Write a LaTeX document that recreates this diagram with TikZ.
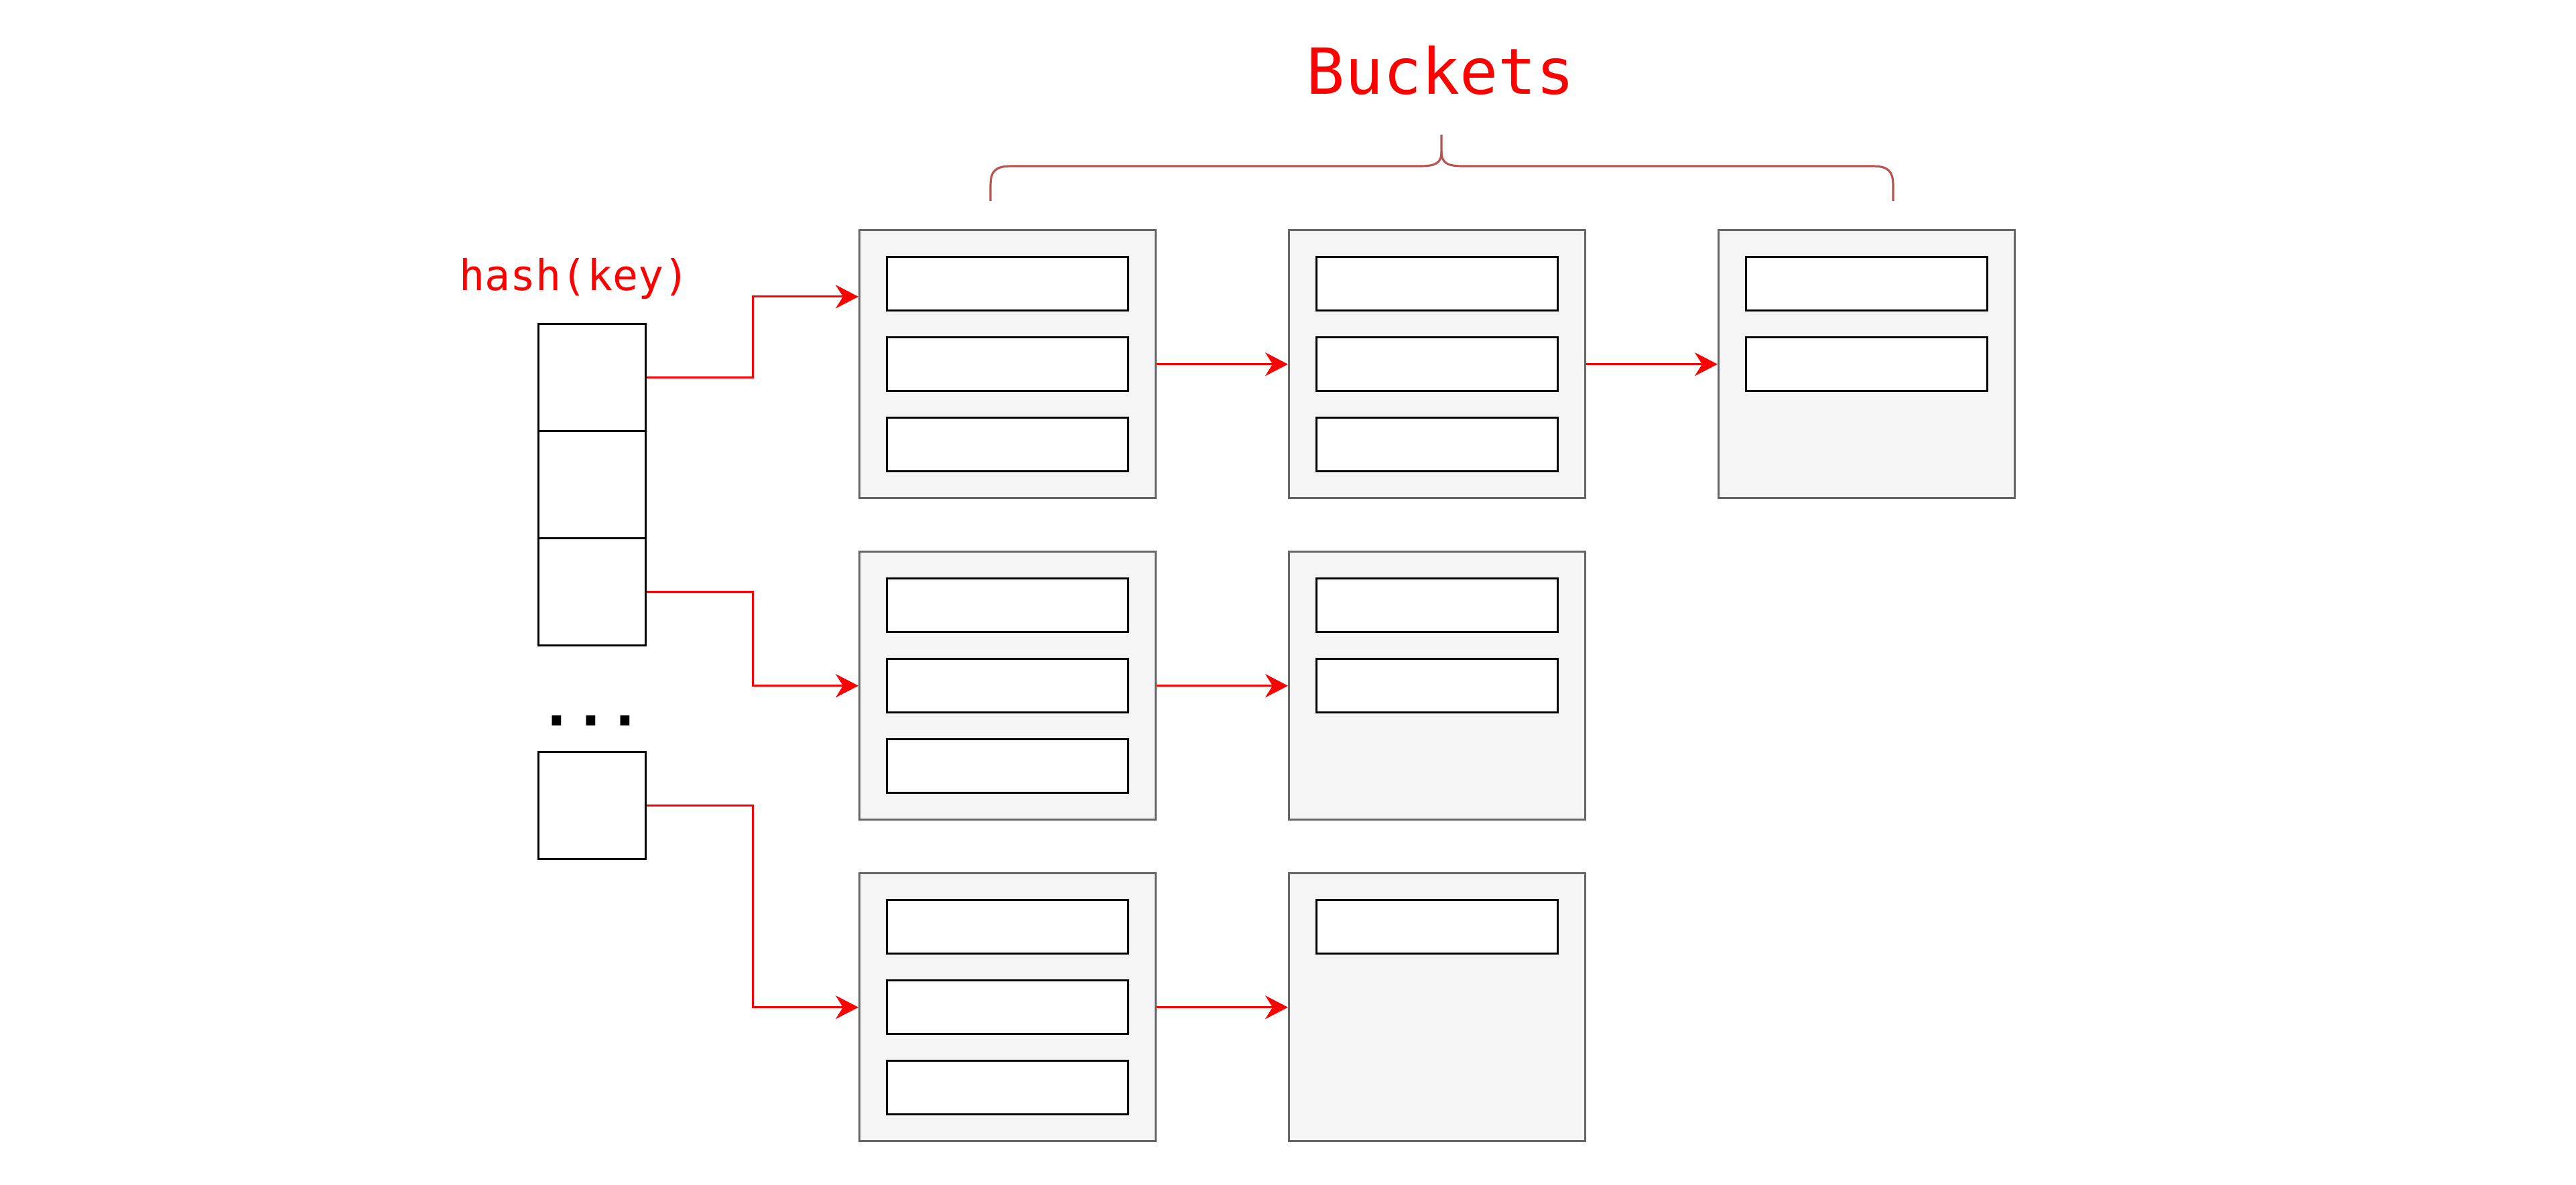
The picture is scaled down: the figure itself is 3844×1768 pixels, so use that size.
\documentclass[tikz,border=0pt]{standalone}
\usepackage{fontspec}
\newfontfamily\monofont{DejaVu Sans Mono}
\usetikzlibrary{arrows.meta,calc}
\definecolor{bucketfill}{HTML}{F5F5F5}
\definecolor{bucketline}{HTML}{666666}
\definecolor{bracecol}{HTML}{B85450}
\definecolor{arrred}{HTML}{FF0000}
\begin{document}
\begin{tikzpicture}[x=0.01cm,y=-0.01cm,
  bucket/.style={draw=bucketline, fill=bucketfill, line width=0.9pt, minimum width=4.42cm, minimum height=4cm, inner sep=0pt, anchor=north west},
  slot/.style={draw=black, fill=white, line width=0.85pt, minimum width=3.6cm, minimum height=0.8cm, inner sep=0pt, anchor=north west},
  cell/.style={draw=black, fill=white, line width=0.95pt, minimum width=1.6cm, minimum height=1.6cm, inner sep=0pt, anchor=north west},
  link/.style={draw=arrred, line width=0.85pt, -{Stealth[length=0.34cm, width=0.35cm, inset=0.11cm]}},
  lbl/.style={text=arrred, inner sep=0pt, anchor=base}]
\useasboundingbox (0,0) rectangle (3844,1768);

% labels
\node[lbl, font=\monofont\fontsize{27}{32}\selectfont] (title) at (2150,140) {Buckets};
\node[lbl, font=\monofont\fontsize{18}{22}\selectfont] (hk) at (857,433) {hash(key)};

% brace
\draw[bracecol, line width=0.9pt]
  (1478,300) -- (1478,278) .. controls (1478,254) and (1486,248) .. (1510,248)
  -- (2118,248) .. controls (2142,248) and (2151,244) .. (2151,226) -- (2151,201);
\draw[bracecol, line width=0.9pt]
  (2151,226) .. controls (2151,244) and (2160,248) .. (2184,248)
  -- (2793,248) .. controls (2817,248) and (2825,254) .. (2825,278) -- (2825,300);

% hash array
\node[cell] (c1) at (802,482) {};
\node[cell] (c2) at (802,642) {};
\node[cell] (c3) at (802,802) {};
\node[cell] (c4) at (802,1121) {};
\node[inner sep=0pt, anchor=base, font=\monofont\bfseries\fontsize{24}{28}\selectfont] (dots) at (882,1083) {...};

% buckets
\foreach \r/\c/\n in {0/0/3,0/1/3,0/2/2,1/0/3,1/1/2,2/0/3,2/1/1}{
  \node[bucket] (b\r\c) at ({1281+641*\c},{342+480*\r}) {};
  \foreach \k in {1,...,\n}{
    \node[slot] (s\r\c\k) at ({1322+641*\c},{382+480*\r+120*(\k-1)}) {};
  }
}

% entry points
\coordinate (e0) at ($(b00.north west)!0.25!(b00.south west)$);

% connectors from hash cells
\draw[link] (c1.east) -| ($(c1.east)!0.5!(e0)$) |- (e0);
\draw[link] (c3.east) -| ($(c3.east)!0.5!(b10.west)$) |- (b10.west);
\draw[link] (c4.east) -| ($(c4.east)!0.5!(b20.west)$) |- (b20.west);

% chain connectors
\draw[link] (b00.east) -- (b01.west);
\draw[link] (b01.east) -- (b02.west);
\draw[link] (b10.east) -- (b11.west);
\draw[link] (b20.east) -- (b21.west);
\end{tikzpicture}
\end{document}
